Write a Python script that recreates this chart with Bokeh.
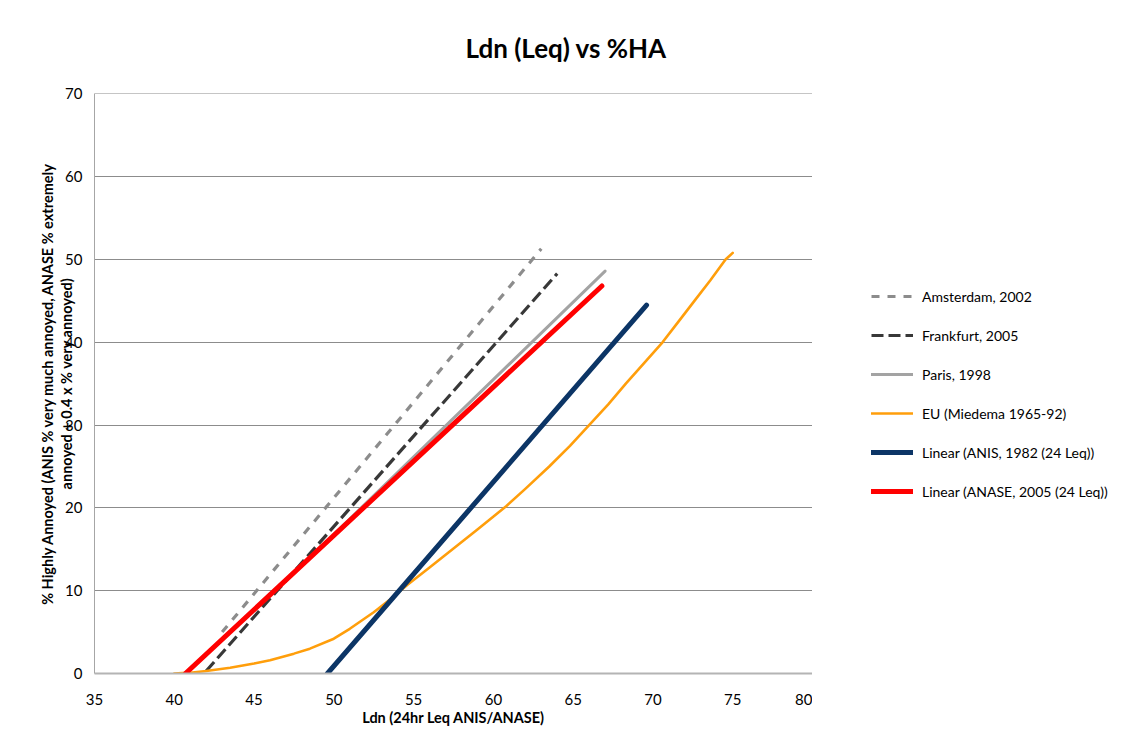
from bokeh.plotting import figure
from bokeh.layouts import row
from bokeh.models import Legend, LegendItem, Range1d, SingleIntervalTicker
from bokeh.embed import file_html
from bokeh.resources import INLINE

# ---- data ----
amsterdam_x = [43.0, 63.0]
amsterdam_y = [5.0, 51.3]
frankfurt_x = [42.0, 64.0]
frankfurt_y = [0.3, 48.3]
paris_x = [50.0, 67.0]
paris_y = [16.8, 48.6]
eu_x = [40.0, 41.0, 42.0, 43.5, 45.0, 46.0, 47.5, 48.5, 50.0, 51.0, 52.5, 53.5, 54.6,
        56.0, 57.5, 59.0, 60.8, 62.0, 63.5, 64.8, 66.0, 67.2, 68.3, 69.5, 70.6, 71.6,
        72.6, 73.6, 74.55, 75.0]
eu_y = [0.0, 0.1, 0.3, 0.7, 1.2, 1.6, 2.4, 3.0, 4.2, 5.4, 7.4, 8.9, 10.7,
        12.8, 15.1, 17.4, 20.2, 22.3, 25.0, 27.5, 30.0, 32.5, 35.0, 37.6, 40.0, 42.5,
        45.0, 47.5, 50.0, 50.8]
anis_x = [49.6, 69.6]
anis_y = [0.0, 44.5]
anase_x = [40.7, 66.8]
anase_y = [0.0, 46.8]

series_names = ["Amsterdam, 2002", "Frankfurt, 2005", "Paris, 1998",
                "EU (Miedema 1965-92)", "Linear (ANIS, 1982 (24 Leq))",
                "Linear (ANASE, 2005 (24 Leq))"]

x_ticks_step = 5
y_ticks_step = 10

FONT = "Lato"

styles = [
    dict(line_color="#8c8c8c", line_width=3.2, line_dash="8 8"),
    dict(line_color="#383838", line_width=3.2, line_dash="12 5"),
    dict(line_color="#a3a3a3", line_width=3, line_cap="round"),
    dict(line_color="#ff9e0b", line_width=2.6, line_cap="round", line_join="round"),
    dict(line_color="#0c3566", line_width=5, line_cap="round"),
    dict(line_color="#ff0000", line_width=5, line_cap="round"),
]

p = figure(width=812, height=728, output_backend="svg", toolbar_location=None,
           x_range=Range1d(35, 80), y_range=Range1d(0, 70.05),
           min_border_left=94, min_border_right=0, min_border_top=93, min_border_bottom=55,
           background_fill_color="white", border_fill_color="white")

p.outline_line_color = None

# title
p.title.text = "Ldn (Leq) vs %HA"
p.title.align = "left"
p.title.offset = 371
p.title.standoff = 59
p.title.text_font = FONT
p.title.text_font_size = "26px"
p.title.text_font_style = "bold"
p.title.text_color = "#000000"

# axes
p.xaxis.ticker = SingleIntervalTicker(interval=x_ticks_step)
p.yaxis.ticker = SingleIntervalTicker(interval=y_ticks_step)
for ax in (p.xaxis, p.yaxis):
    ax.major_tick_out = 0
    ax.major_tick_in = 0
    ax.minor_tick_out = 0
    ax.minor_tick_in = 0
    ax.major_label_text_font = FONT
    ax.major_label_text_font_size = "15px"
    ax.major_label_text_color = "#000000"
    ax.axis_label_text_font = FONT
    ax.axis_label_text_font_style = "bold"
    ax.axis_label_text_color = "#000000"
    ax.axis_label_text_font_size = "14.5px"

p.xaxis.axis_line_color = "#b4b4b4"
p.xaxis.axis_line_width = 2
p.xaxis.major_label_standoff = 20
p.xaxis.axis_label = "Ldn (24hr Leq ANIS/ANASE)"
p.xaxis.axis_label_standoff = 1

p.yaxis.axis_line_color = "#a6a6a6"
p.yaxis.axis_line_width = 1
p.yaxis.major_label_standoff = 12
p.yaxis.axis_label = "% Highly Annoyed (ANIS % very much annoyed, ANASE % extremely\nannoyed + 0.4 x % very annoyed)"
p.yaxis.axis_label_text_line_height = 1.15
p.yaxis.axis_label_standoff = -13

p.xgrid.grid_line_color = None
p.ygrid.grid_line_color = "#8c8c8c"
p.ygrid.grid_line_width = 1

# series
xs = [amsterdam_x, frankfurt_x, paris_x, eu_x, anis_x, anase_x]
ys = [amsterdam_y, frankfurt_y, paris_y, eu_y, anis_y, anase_y]
for x, y, st in zip(xs, ys, styles):
    p.line(x, y, **st)

# legend panel (separate figure to the right, so nothing is clipped)
q = figure(width=308, height=728, output_backend="svg", toolbar_location=None,
           x_axis_type=None, y_axis_type=None,
           x_range=Range1d(1000, 1001), y_range=Range1d(1000, 1001),
           min_border_left=0, min_border_right=0, min_border_top=0, min_border_bottom=0,
           background_fill_color="white", border_fill_color="white")
q.outline_line_color = None
q.grid.visible = False
legend_renderers = [q.line(x, y, visible=False, **st) for x, y, st in zip(xs, ys, styles)]

legend = Legend(items=[LegendItem(label=n, renderers=[r]) for n, r in zip(series_names, legend_renderers)],
                location=(59, 172), orientation="vertical",
                glyph_width=42, glyph_height=20, label_height=20, spacing=19,
                label_standoff=9, padding=0, margin=0,
                border_line_color=None, background_fill_alpha=0,
                inactive_fill_alpha=0,
                label_text_font=FONT, label_text_font_size="14px",
                label_text_color="#000000")
q.add_layout(legend)

layout = row(p, q)
open("out.html", "w").write(file_html(layout, INLINE))
